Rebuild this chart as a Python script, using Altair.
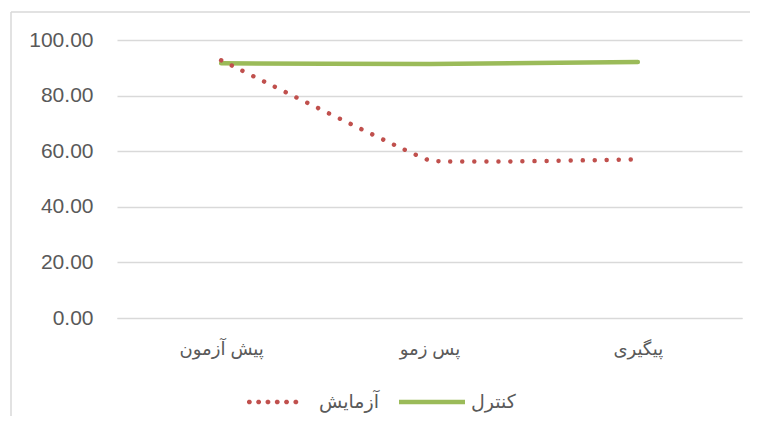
import altair as alt
import pandas as pd

# ---- data ----
categories = ["پیش آزمون", "پس زمو", "پیگیری"]
series_names = ["آزمایش", "کنترل"]
experiment_values = [92.7, 56.7, 57.1]
control_values = [91.6, 91.4, 92.1]
y_ticks = [0, 20, 40, 60, 80, 100]

series_colors = ["#C0504D", "#9BBB59"]

rows = []
for name, vals in zip(series_names, [experiment_values, control_values]):
    for cat, v in zip(categories, vals):
        rows.append({"stage": cat, "group": name, "value": v})
df = pd.DataFrame(rows)

FONT = "Liberation Sans, DejaVu Sans"
GRAY = "#595959"


def octagon(cx, cy, r):
    k = 0.4142 * r
    pts = [(cx + r, cy - k), (cx + r, cy + k), (cx + k, cy + r), (cx - k, cy + r),
           (cx - r, cy + k), (cx - r, cy - k), (cx - k, cy - r), (cx + k, cy - r)]
    return "M" + " L".join(f"{x:.3f},{y:.3f}" for x, y in pts) + " Z"


# legend glyphs (unit space of the legend symbol)
dot_r = 0.078
dot_centers = [-1.2 + dot_r + i * 0.31 for i in range(6)]
dots_path = " ".join(octagon(c, 0, dot_r) for c in dot_centers)
bar_path = "M-1.2,-0.075 L1.0,-0.075 L1.0,0.075 L-1.2,0.075 Z"

x_enc = alt.X(
    "stage:N",
    sort=categories,
    scale=alt.Scale(domain=categories),
    axis=alt.Axis(
        title=None,
        labelAngle=0,
        labelPadding=22,
        labelFontSize=18,
        labelFont=FONT,
        labelColor=GRAY,
        domain=True,
        domainColor="#D9D9D9",
        ticks=False,
        grid=False,
    ),
)
y_enc = alt.Y(
    "value:Q",
    scale=alt.Scale(domain=[0, 100], nice=False, zero=True),
    axis=alt.Axis(
        title=None,
        values=y_ticks,
        format=".2f",
        labelFontSize=21,
        labelFont=FONT,
        labelColor=GRAY,
        labelPadding=24,
        domain=False,
        ticks=False,
        grid=True,
        gridColor="#D9D9D9",
        gridWidth=1.3,
    ),
)

base = alt.Chart(df)

red_line = base.transform_filter(
    alt.datum.group == series_names[0]
).mark_line(
    interpolate="cardinal", tension=0.8, strokeWidth=4.5, strokeCap="round",
    color=series_colors[0], strokeDash=[0.01, 12],
).encode(x=x_enc, y=y_enc)

green_line = base.transform_filter(
    alt.datum.group == series_names[1]
).mark_line(
    interpolate="cardinal", tension=0.8, strokeWidth=4.5, strokeCap="round",
    color=series_colors[1],
).encode(x=x_enc, y=y_enc)

legend = alt.Legend(
    title=None,
    orient="none",
    legendX=136,
    legendY=332,
    direction="horizontal",
    symbolSize=3600,
    symbolStrokeWidth=0,
    labelFontSize=19,
    labelFont=FONT,
    labelColor=GRAY,
    labelOffset=6,
    columnPadding=20,
)

legend_layer = base.transform_filter("false").mark_point(filled=True, opacity=1).encode(
    color=alt.Color(
        "group:N",
        scale=alt.Scale(domain=series_names, range=series_colors),
        legend=legend,
    ),
    shape=alt.Shape(
        "group:N",
        scale=alt.Scale(domain=series_names, range=[dots_path, bar_path]),
        legend=legend,
    ),
)

border_df = pd.DataFrame({"k": [0]})
left_border = alt.Chart(border_df).mark_rule(color="#D9D9D9", strokeWidth=1.5).encode(
    x=alt.value(-106), y=alt.value(-28), y2=alt.value(400)
)
top_border = alt.Chart(border_df).mark_rule(color="#D9D9D9", strokeWidth=1.5).encode(
    x=alt.value(-106), x2=alt.value(700), y=alt.value(-28)
)

chart = alt.layer(left_border, top_border, green_line, red_line, legend_layer).properties(
    width=625,
    height=278,
    background="white",
    autosize=alt.AutoSizeParams(type="none"),
    padding={"left": 109, "top": 32, "right": 8, "bottom": 98},
).configure_view(strokeWidth=0, stroke="transparent")

chart.save("out.html", embed_options={"renderer": "svg", "actions": False})
